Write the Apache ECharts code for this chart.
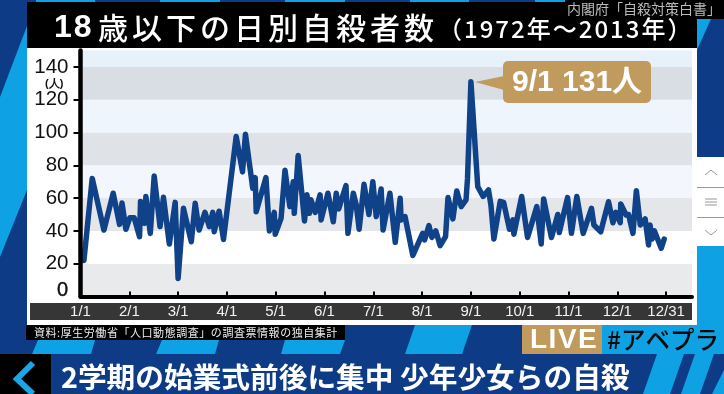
<!DOCTYPE html>
<html><head><meta charset="utf-8">
<script src="https://cdn.jsdelivr.net/npm/echarts@6/dist/echarts.min.js"></script>
<style>html,body{margin:0;padding:0;background:#0d3b85}#c{width:724px;height:394px}</style>
</head><body><div id="c"></div>
<script>
const monthLabels = ['1/1','2/1','3/1','4/1','5/1','6/1','7/1','8/1','9/1','10/1','11/1','12/1','12/31'];
const monthTicks = [0,1,2,3,4,5,6,7,8,9,10,11,12];
const yTicks = [20,40,60,80,100,120,140];
const bandEdges = [0,20,40,60,80,100,120,140,150];
const bandColors = ['#e9eaec','#ffffff','#e5e6e9','#f3f7fd','#dfe2e6','#eff5fc','#d9dee5','#e7f1fa'];
const positions = [.07,.24,.48,.67,.80,.85,.93,1.01,1.10,1.21,1.23,1.31,1.34,1.43,1.51,1.63,1.70,1.82,1.94,2.00,2.11,2.27,2.35,2.43,2.55,2.64,2.71,2.74,2.84,2.93,3.19,3.32,3.38,3.53,3.58,3.60,3.80,3.87,3.97,3.99,4.11,4.19,4.29,4.36,4.38,4.46,4.59,4.64,4.69,4.72,4.81,4.91,4.93,5.07,5.18,5.24,5.29,5.44,5.48,5.59,5.65,5.71,5.81,5.91,5.99,6.06,6.16,6.20,6.34,6.45,6.55,6.57,6.65,6.81,7.01,7.05,7.14,7.20,7.28,7.37,7.48,7.53,7.63,7.71,7.80,7.90,7.93,8.00,8.14,8.25,8.36,8.41,8.47,8.60,8.67,8.79,8.86,8.88,9.04,9.16,9.35,9.44,9.49,9.65,9.78,9.81,9.98,10.06,10.17,10.30,10.47,10.52,10.66,10.82,10.91,10.97,11.06,11.07,11.18,11.23,11.32,11.39,11.47,11.57,11.64,11.67,11.71,11.76,11.90,11.96];
const values = [22,72,40.5,63,44,57,41,48,48,36.5,58,44.6,61,38.5,73.5,42.6,60.5,32,57.4,11,53.8,33.4,56.8,40.5,51.3,42.6,51.3,39.5,52,34.8,97.5,76,98.9,66,72.5,51.7,72.5,40,51.3,38,47.7,77,54.8,70,50.7,86,46,62,50.7,59,51.3,62,46.7,63,45.6,63,53.4,67.6,38.5,63,55.8,41,68.4,50,70,48.7,65.6,40.6,63,33,59.9,46.7,48.7,25,38.5,34.5,43.2,36,40,31,36.5,60.3,47.3,64.3,54.8,58.9,72,131,67,61,65,55.8,35,58,57.4,41,46.7,38,61,36,54.8,32,59.5,36,50,39,60.3,38.5,61,38.5,53.8,43.6,39.5,57.8,45,51.3,45,56.4,49.7,50,38.5,64.5,43.6,47.3,31.4,43.6,35,40,29.4,35];
const titleMain = '18歳以下の日別自殺者数';
const titleYears = '（1972年～2013年）';
const sourceText = '資料:厚生労働省「人口動態調査」の調査票情報の独自集計';
const agencyText = '内閣府「自殺対策白書」';
const calloutText = '9/1 131人';
const headline = '2学期の始業式前後に集中 少年少女らの自殺';

const JP = '"Noto Sans CJK JP"', LAT = '"Liberation Sans"';
const CYAN = '#0ea2e4', NAVY = '#0d3b85', TAN = '#c19b5d';
const poly = (pts, fill, z) => ({type:'polygon', z, silent:true, shape:{points:pts}, style:{fill}});
const rect = (x,y,w,h,fill,z,r) => ({type:'rect', z, silent:true, shape:{x,y,width:w,height:h,r:r||0}, style:{fill}});
const txt = (text,x,y,font,fill,z,extra) => ({type:'text', z, silent:true, x, y, style:Object.assign({text,font,fill,textVerticalAlign:'middle'},extra||{})});
const mctx = document.createElement('canvas').getContext('2d');
function spaced(s,x,y,font,fill,z,gap){
  mctx.font = font; const out=[];
  for (const ch of s){ out.push(txt(ch,x,y,font,fill,z)); x += mctx.measureText(ch).width + gap; }
  return out;
}
const line = (pts,stroke,w,z) => ({type:'polyline', z, silent:true, shape:{points:pts}, style:{stroke,lineWidth:w,fill:null,lineJoin:'miter'}});

const back = [
  poly([[27,26],[0,97],[0,257],[27,190]],CYAN,-10),
  rect(36,0,59,3,CYAN,-10), rect(160,0,60,3,CYAN,-10), rect(285,0,60,3,CYAN,-10), rect(410,0,59,3,CYAN,-10), rect(535,0,30,3,CYAN,-10),
  poly([[697,19],[711,19],[697,50]],CYAN,-10),
  rect(697,246,27,80,CYAN,-10),
  poly([[38,340],[95,340],[91,354],[32,354]],CYAN,-10),
  poly([[162,340],[219,340],[215,354],[156,354]],CYAN,-10),
  poly([[285,340],[345,340],[340,354],[281,354]],CYAN,-10),
  poly([[415,325],[472,325],[462,354],[405,354]],CYAN,-10),
  rect(27,2,670,46,'#000',-9),
  rect(565,0,159,19,'#000',-9),
  rect(27,48,670,277,'#fff',-9),
  rect(30,303,662,17,'#363636',-8),
  rect(26,325,319,15,'#000',-8),
  rect(697,157,27,89,'#fff',-9),
  rect(697,187,27,1,'#999',-8), rect(697,217,27,1,'#999',-8),
  rect(522,325,80,29,TAN,-9), rect(602,325,122,29,CYAN,-9),
  rect(0,354,724,40,NAVY,-9),
  rect(0,354,51,40,'#000',-8),
  poly([[657,354],[684,354],[670,394],[643,394]],CYAN,-8),
  poly([[695,354],[714,354],[700,394],[681,394]],CYAN,-8),
  poly([[724,370],[724,394],[712,394]],CYAN,-8)
];
const front = [
  ...spaced(titleMain.slice(0,2),54,28,'bold 32px '+LAT,'#fff',50,2),
  ...spaced(titleMain.slice(2),98,28,'500 30px '+JP,'#fff',50,4),
  ...spaced(titleYears,438,29,'500 24px '+JP,'#fff',50,2),
  txt(agencyText,567,9,'14px '+JP,'#bbb',50),
  ...spaced(sourceText,34,333,'11px '+JP,'#eee',50,.55),
  txt('(人)',45,84,'bold 11px '+LAT,'#111',50),
  txt('0',57,290,'20px '+LAT,'#111',50,{stroke:'#111',lineWidth:.4}),
  poly([[475,82],[504,76],[504,90]],TAN,40),
  rect(503,61,148,42,TAN,40,5),
  txt(calloutText,512,83,'bold 30px '+LAT+','+JP,'#fff',50),
  ...spaced('LIVE',530,340,'bold 28px '+LAT,'#fff',50,1.5),
  txt('#アベプラ',607,340,'500 24.5px '+JP,'#0a0a0a',50),
  txt(headline,61,377,'bold 28.7px '+JP,'#fff',50),
  line([[33,363],[17,379],[33,394]],'#1aa6e8',6,50),
  line([[705,175],[711,170],[717,175]],'#999',1,50),
  line([[705,199],[717,199]],'#999',1,50), line([[705,202],[717,202]],'#999',1,50), line([[705,205],[717,205]],'#999',1,50),
  line([[705,230],[711,235],[717,230]],'#999',1,50)
];
const chart = echarts.init(document.getElementById('c'),null,{renderer:'canvas'});
chart.setOption({
  animation:false,
  backgroundColor:NAVY,
  grid:{left:80.5,right:32,top:50.5,bottom:97.5},
  graphic:[...back,...front],
  xAxis:{type:'value',min:0,max:12.53,splitLine:{show:false},offset:1.5,z:5,
    axisLine:{show:true,lineStyle:{color:'#000',width:4}},
    axisTick:{show:true,inside:true,length:5,customValues:monthTicks,lineStyle:{color:'#000',width:2}},
    axisLabel:{customValues:monthTicks,margin:6,color:'#f2f2f2',fontFamily:'"Liberation Sans Narrow","Liberation Sans"',fontSize:15,
      formatter:v=>monthLabels[Math.round(v)]}},
  yAxis:{type:'value',min:0,max:150,splitLine:{show:false},z:5,
    axisLine:{show:true,lineStyle:{color:'#000',width:4.5}},
    axisTick:{show:true,length:7,customValues:yTicks,lineStyle:{color:'#000',width:2}},
    axisLabel:{customValues:yTicks,margin:12,color:'#111',fontFamily:LAT,fontSize:20.5,padding:[6,0,0,0]}},
  series:[{type:'line',data:positions.map((x,i)=>[x,values[i]]),showSymbol:false,symbol:'none',z:3,
    lineStyle:{color:'#0f4288',width:5.5,join:'round',cap:'round'},
    markArea:{silent:true,z:1,data:bandColors.map((c,i)=>[{yAxis:bandEdges[i],itemStyle:{color:c}},{yAxis:bandEdges[i+1]}])}}]
});
</script></body></html>
